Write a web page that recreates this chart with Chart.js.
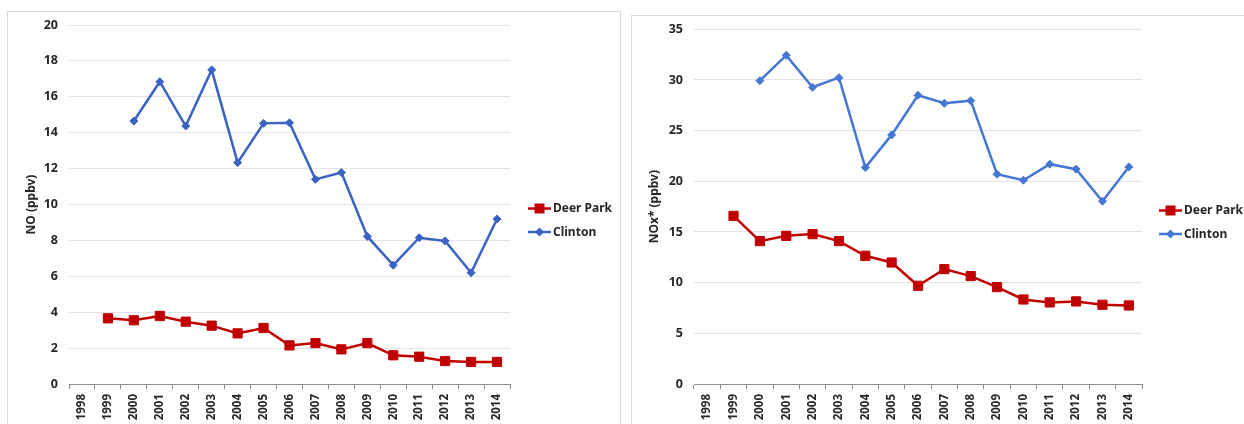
<!DOCTYPE html>
<html>
<head>
<meta charset="utf-8">
<script src="https://cdn.jsdelivr.net/npm/chart.js@4/dist/chart.umd.min.js"></script>
<style>
  html, body { margin: 0; padding: 0; background: #fff; }
  body { width: 1244px; height: 424px; position: relative; overflow: hidden; }
  .panel { position: absolute; border: 1px solid #d9d9d9; background: #fff; }
  #p1 { left: 7px; top: 11px; width: 612px; height: 430px; }
  #p2 { left: 631px; top: 15px; width: 630px; height: 430px; }
  canvas { position: absolute; }
  #c1 { left: 8px; top: 12px; }
  #c2 { left: 632px; top: 16px; }
</style>
</head>
<body>
<div class="panel" id="p1"></div>
<div class="panel" id="p2"></div>
<canvas id="c1" width="612" height="412"></canvas>
<canvas id="c2" width="612" height="408"></canvas>
<script>
// Monitoring years on the category axis
const years = ['1998','1999','2000','2001','2002','2003','2004','2005','2006','2007','2008','2009','2010','2011','2012','2013','2014'];

// Annual NO (ppbv)
const noDeerPark = [null, 3.66, 3.55, 3.79, 3.47, 3.25, 2.82, 3.12, 2.15, 2.28, 1.93, 2.28, 1.60, 1.52, 1.28, 1.23, 1.23];
const noClinton  = [null, null, 14.65, 16.84, 14.37, 17.50, 12.33, 14.52, 14.55, 11.40, 11.78, 8.22, 6.62, 8.15, 7.97, 6.20, 9.19];

// Annual NOx* (ppbv)
const noxDeerPark = [null, 16.59, 14.10, 14.62, 14.79, 14.10, 12.65, 11.99, 9.69, 11.34, 10.65, 9.56, 8.34, 8.05, 8.15, 7.82, 7.75];
const noxClinton  = [null, null, 29.93, 32.43, 29.28, 30.23, 21.36, 24.58, 28.49, 27.70, 27.96, 20.70, 20.11, 21.69, 21.20, 18.04, 21.42];

// Value-axis ranges
const noAxis  = { max: 20, step: 2 };
const noxAxis = { max: 35, step: 5 };

const FONT = '"Noto Sans", "Open Sans", sans-serif';
const TEXT = '#262626';
const RED = '#C00000';

// Legend drawn at the right of the plot: a short line with the series marker
const sideLegend = {
  id: 'sideLegend',
  afterDraw(chart, args, opts) {
    const ctx = chart.ctx;
    ctx.save();
    chart.data.datasets.forEach((ds, i) => {
      const y = opts.y + i * opts.gap;
      const x0 = opts.x, x1 = opts.x + 23, xm = (x0 + x1) / 2;
      ctx.strokeStyle = ds.borderColor;
      ctx.lineWidth = ds.borderWidth;
      ctx.beginPath(); ctx.moveTo(x0, y); ctx.lineTo(x1, y); ctx.stroke();
      ctx.fillStyle = ds.pointBackgroundColor;
      ctx.beginPath();
      if (ds.pointStyle === 'rect') {
        ctx.rect(xm - 5, y - 5, 10, 10);
      } else {
        ctx.moveTo(xm, y - 4.5); ctx.lineTo(xm + 4.5, y); ctx.lineTo(xm, y + 4.5); ctx.lineTo(xm - 4.5, y); ctx.closePath();
      }
      ctx.fill();
      ctx.fillStyle = TEXT;
      ctx.font = 'bold 12px ' + FONT;
      ctx.textBaseline = 'middle';
      ctx.textAlign = 'left';
      ctx.fillText(ds.label, x1 + 2, y + 0.5);
    });
    ctx.restore();
  }
};

function makeChart(id, title, deer, clinton, axis, blue, legendPos, yWidth) {
  return new Chart(document.getElementById(id), {
    type: 'line',
    data: {
      labels: years,
      datasets: [
        {
          label: 'Deer Park', data: deer,
          borderColor: RED, backgroundColor: RED, pointBackgroundColor: RED, pointBorderColor: RED,
          borderWidth: 2.5, pointStyle: 'rect', pointRadius: 6.5, pointBorderWidth: 1,
          tension: 0, spanGaps: false
        },
        {
          label: 'Clinton', data: clinton,
          borderColor: blue, backgroundColor: blue, pointBackgroundColor: blue, pointBorderColor: blue,
          borderWidth: 2.5, pointStyle: 'rectRot', pointRadius: 4, pointBorderWidth: 1,
          tension: 0, spanGaps: false
        }
      ]
    },
    options: {
      responsive: false,
      animation: false,
      devicePixelRatio: 1,
      layout: { padding: { top: legendPos.top, right: legendPos.right, left: 0, bottom: 0 } },
      plugins: {
        legend: { display: false },
        tooltip: { enabled: false },
        sideLegend: legendPos
      },
      scales: {
        x: {
          type: 'category',
          offset: true,
          grid: { display: true, offset: true, drawOnChartArea: false, drawTicks: true, tickLength: 5, color: '#8c8c8c', lineWidth: 1 },
          border: { display: true, color: '#8c8c8c', width: 1 },
          ticks: { minRotation: 90, maxRotation: 90, autoSkip: false, padding: 5, color: TEXT, font: { family: FONT, size: 11.5, weight: 'bold' } },
          afterFit(s) { s.height = 40; }
        },
        y: {
          min: 0, max: axis.max,
          ticks: { stepSize: axis.step, padding: 0, color: TEXT, font: { family: FONT, size: 12.5, weight: 'bold' } },
          grid: { color: '#e3e3e3', lineWidth: 1, drawTicks: true, tickLength: 11, tickColor: 'rgba(0,0,0,0)' },
          border: { display: false },
          title: { display: true, text: title, color: TEXT, font: { family: FONT, size: 12, weight: 'bold' }, padding: { top: legendPos.titlePad, bottom: 0 } },
          afterFit(s) { s.width = yWidth; }
        }
      }
    },
    plugins: [sideLegend]
  });
}

makeChart('c1', 'NO (ppbv)', noDeerPark, noClinton, noAxis, '#3A63C3',
  { x: 520, y: 196.5, gap: 23.5, top: 13, right: 110, titlePad: 16 }, 61);
makeChart('c2', 'NOx* (ppbv)', noxDeerPark, noxClinton, noxAxis, '#4677D3',
  { x: 527, y: 194.5, gap: 23.5, top: 13.3, right: 102, titlePad: 15 }, 62);
</script>
</body>
</html>
